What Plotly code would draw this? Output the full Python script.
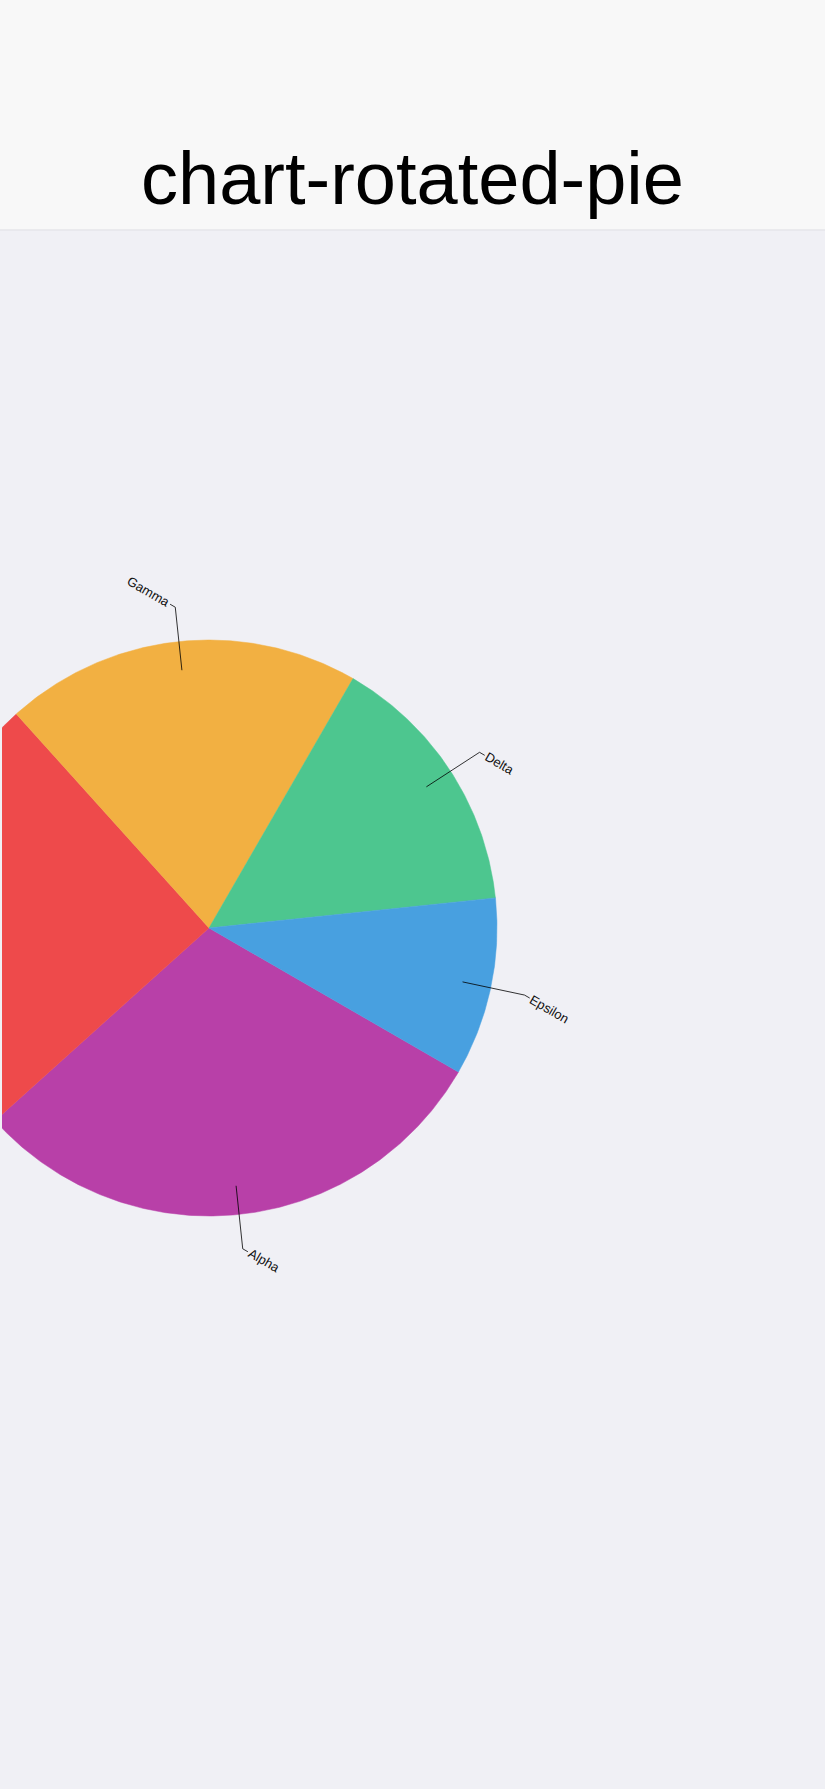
import numpy as np
import plotly.graph_objects as go

labels = ["Alpha", "Beta", "Gamma", "Delta", "Epsilon"]
values = [30, 25, 20, 15, 10]
colors = ["#b840a8", "#ee4a4b", "#f2b042", "#4dc68f", "#48a0e0"]
title = "chart-rotated-pie"

WIDTH, HEIGHT = 825, 1789
HEADER_H = 230
CX, CY, R = 209, 928, 288  # pie centre and radius in px
ROTATION = 30  # the whole chart is turned clockwise by this
START = 90  # first slice starts at 3 o'clock before the turn
FONT = "Liberation Sans"
LABEL_SIZE = 13


def polar(angle, radius):
    # angle in degrees clockwise from 12 o'clock, y axis points up
    a = np.radians(angle)
    return radius * np.sin(a), radius * np.cos(a)


def px(d):
    # px -> data units (1 unit = pie radius)
    return d / R


fig = go.Figure()
annotations = []
total = sum(values)
cum = 0
for label, value, color in zip(labels, values, colors):
    a0 = ROTATION + START + cum / total * 360
    a1 = a0 + value / total * 360
    cum += value

    theta = np.linspace(a0, a1, int(a1 - a0) * 2 + 2)
    xs, ys = polar(theta, 1.0)
    fig.add_trace(
        go.Scatter(
            x=np.r_[0, xs, 0],
            y=np.r_[0, ys, 0],
            mode="lines",
            fill="toself",
            fillcolor=color,
            line=dict(color=color, width=0.5),
            name=label,
            hoverinfo="text",
            text=f"{label}: {value}",
        )
    )

    # leader line: radial part, then a short "horizontal" elbow in the turned frame
    mid = (a0 + a1) / 2
    x1, y1 = polar(mid, 0.9)
    x2, y2 = polar(mid, 1.12)
    sign = 1 if np.sin(np.radians(mid - ROTATION)) >= 0 else -1
    dx = sign * np.cos(np.radians(ROTATION))
    dy = -sign * np.sin(np.radians(ROTATION))
    x3, y3 = x2 + dx * px(6), y2 + dy * px(6)
    fig.add_trace(
        go.Scatter(
            x=[x1, x2, x3],
            y=[y1, y2, y3],
            mode="lines",
            line=dict(color="#000000", width=0.8),
            hoverinfo="skip",
        )
    )

    tx, ty = x3 + dx * px(2), y3 + dy * px(2)
    h = 16
    if sign > 0:
        pos = dict(x=tx - px(h / 4), y=ty + px(0.433 * h), xanchor="left", yanchor="top")
    else:
        pos = dict(x=tx + px(h / 4), y=ty - px(0.433 * h), xanchor="right", yanchor="bottom")
    annotations.append(
        dict(
            text=label,
            showarrow=False,
            textangle=ROTATION,
            font=dict(family=FONT, size=LABEL_SIZE, color="#111111"),
            borderpad=0,
            borderwidth=0,
            xref="x",
            yref="y",
            **pos,
        )
    )

fig.update_layout(
    width=WIDTH,
    height=HEIGHT,
    margin=dict(l=2, r=0, t=0, b=0),
    paper_bgcolor="#f0f0f5",
    plot_bgcolor="#f0f0f5",
    showlegend=False,
    annotations=annotations,
    title=dict(
        text=title,
        font=dict(family=FONT, size=74, color="#000000"),
        x=0.5,
        xanchor="center",
        y=1 - 178 / HEIGHT,
        yanchor="middle",
    ),
    shapes=[
        dict(
            type="rect",
            xref="paper",
            yref="paper",
            x0=-0.01,
            x1=1.01,
            y0=1 - HEADER_H / HEIGHT,
            y1=1.01,
            fillcolor="#f8f8f8",
            line=dict(width=0),
            layer="below",
        ),
        dict(
            type="line",
            xref="paper",
            yref="paper",
            x0=-0.01,
            x1=1.01,
            y0=1 - HEADER_H / HEIGHT,
            y1=1 - HEADER_H / HEIGHT,
            line=dict(color="#e6e6ea", width=1.5),
        ),
    ],
)
fig.update_xaxes(
    visible=False,
    fixedrange=True,
    range=[px(2 - CX), px(WIDTH - CX)],
)
fig.update_yaxes(
    visible=False,
    fixedrange=True,
    range=[px(CY - HEIGHT), px(CY)],
)

# drop the browser's default body margin so the figure fills the window
fig.write_html(
    "out.html",
    config={"displayModeBar": False},
    post_script="document.body.style.margin='0';document.body.style.overflow='hidden';",
)
